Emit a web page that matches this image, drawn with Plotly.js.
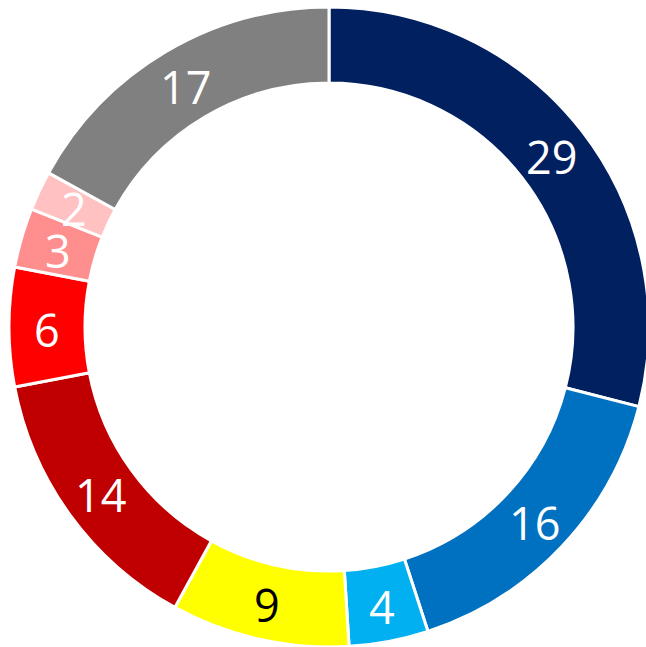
<!DOCTYPE html>
<html><head><meta charset="utf-8">
<script src="https://cdn.plot.ly/plotly-3.0.1.min.js"></script>
<style>html,body{margin:0;padding:0;background:#fff;overflow:hidden;}#chart{width:652px;height:652px;}</style>
</head><body><div id="chart"></div>
<script>
const labels = ["A","B","C","D","E","F","G","H","I"];
const values = [29, 16, 4, 9, 14, 6, 3, 2, 17];
const colors = ["#002060","#0070C0","#00B0F0","#FFFF00","#C00000","#FF0000","#FF8F8F","#FFC1C1","#808080"];
const textColors = ["#FFFFFF","#FFFFFF","#FFFFFF","#000000","#FFFFFF","#FFFFFF","#FFFFFF","#FFFFFF","#FFFFFF"];

const W = 652, H = 652;
const dom = {x: [9 / 652, 649 / 652], y: [5 / 652, 645 / 652]};
const hole = 0.7625;

// label positions derived from the data (mid-angle of each slice, middle of the ring)
const pw = (dom.x[1] - dom.x[0]) * W, ph = (dom.y[1] - dom.y[0]) * H;
const R = Math.min(pw, ph) / 2;
const cx = (dom.x[0] + dom.x[1]) / 2 * W, cy = (dom.y[0] + dom.y[1]) / 2 * H;
const rMid = R * (1 + hole) / 2;
const total = values.reduce((a, b) => a + b, 0);
let cum = 0;
const annotations = values.map((v, i) => {
  const mid = (cum + v / 2) / total * 2 * Math.PI;
  cum += v;
  return {
    xref: "paper", yref: "paper",
    x: (cx + rMid * Math.sin(mid)) / W,
    y: (cy + rMid * Math.cos(mid)) / H,
    xanchor: "center", yanchor: "middle",
    text: String(v), showarrow: false, yshift: -2,
    font: {family: "Open Sans, sans-serif", size: 45, color: textColors[i]}
  };
});

Plotly.newPlot("chart", [{
  type: "pie",
  labels: labels,
  values: values,
  textinfo: "none",
  sort: false,
  direction: "clockwise",
  rotation: 0,
  hole: hole,
  marker: {colors: colors, line: {color: "#FFFFFF", width: 3}},
  domain: dom,
  hoverinfo: "none"
}], {
  width: W, height: H,
  margin: {l: 0, r: 0, t: 0, b: 0},
  showlegend: false,
  paper_bgcolor: "#FFFFFF",
  annotations: annotations
}, {staticPlot: true});
</script></body></html>
